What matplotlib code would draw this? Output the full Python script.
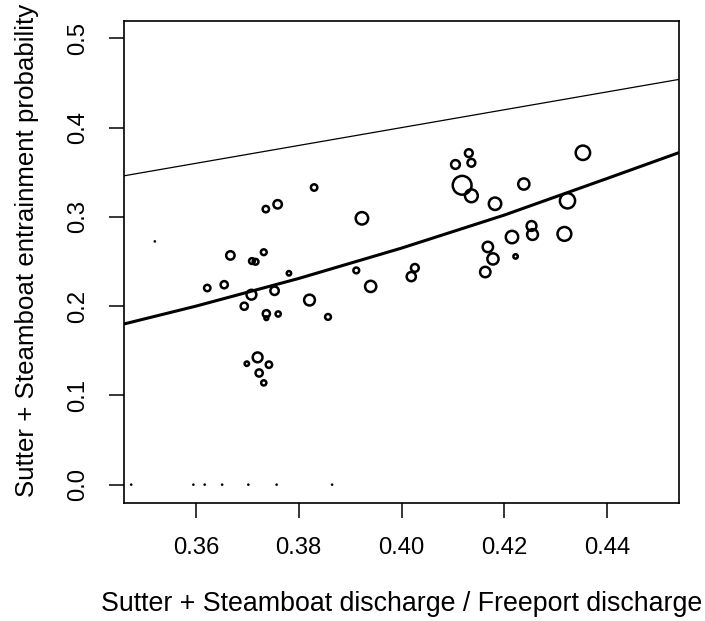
import numpy as np
import matplotlib
matplotlib.use("Agg")
import matplotlib.pyplot as plt

plt.rcParams["font.family"] = ["Liberation Sans", "DejaVu Sans"]

# observed entrainment probabilities (x = discharge ratio, y = probability)
x_obs = [0.3520, 0.3830, 0.3736, 0.3759, 0.3923, 0.3732, 0.3667, 0.3709,
         0.3716, 0.3781, 0.3912, 0.3622, 0.3655, 0.3708, 0.3753, 0.3821,
         0.3694, 0.3737, 0.3737, 0.3760, 0.3857, 0.3720, 0.3699, 0.3742,
         0.3723, 0.3732, 0.3940, 0.4026, 0.4019, 0.4131, 0.4105, 0.4136,
         0.4118, 0.4136, 0.4182, 0.4238, 0.4353, 0.4323, 0.4253, 0.4255,
         0.4215, 0.4317, 0.4168, 0.4178, 0.4222, 0.4163,
         0.3474, 0.3595, 0.3617, 0.3651, 0.3702, 0.3757, 0.3865]
y_obs = [0.2725, 0.3329, 0.3087, 0.3141, 0.2984, 0.2604, 0.2568, 0.2505,
         0.2497, 0.2368, 0.2400, 0.2203, 0.2240, 0.2128, 0.2172, 0.2068,
         0.1999, 0.1915, 0.1865, 0.1912, 0.1879, 0.1426, 0.1355, 0.1344,
         0.1251, 0.1140, 0.2221, 0.2428, 0.2331, 0.3714, 0.3587, 0.3606,
         0.3354, 0.3236, 0.3147, 0.3368, 0.3718, 0.3180, 0.2898, 0.2802,
         0.2774, 0.2809, 0.2663, 0.2529, 0.2557, 0.2382,
         0.0, 0.0, 0.0, 0.0, 0.0, 0.0, 0.0]
# relative symbol size (sample weight)
weight = [1.3, 4.3, 4.3, 5.3, 7.3, 4.0, 5.3, 4.0,
          4.0, 3.3, 4.0, 4.3, 4.7, 6.0, 5.3, 6.5,
          4.7, 4.7, 3.0, 3.7, 4.0, 6.0, 3.3, 4.3,
          4.7, 3.7, 6.7, 5.0, 5.7, 5.0, 5.5, 5.0,
          10.5, 7.5, 7.3, 6.7, 8.3, 8.7, 6.0, 6.5,
          7.3, 8.0, 6.3, 6.7, 3.3, 6.3,
          1.3, 1.3, 1.3, 1.3, 1.3, 1.3, 1.3]

# fitted curve read at a few discharge ratios
fit_x = [0.346, 0.36, 0.38, 0.40, 0.42, 0.44, 0.454]
fit_y = [0.180, 0.200, 0.231, 0.265, 0.302, 0.343, 0.372]

x_ticks = [0.36, 0.38, 0.40, 0.42, 0.44]
y_ticks = [0.0, 0.1, 0.2, 0.3, 0.4, 0.5]

fig = plt.figure(figsize=(7.05, 6.21), dpi=100)
ax = fig.add_axes([124 / 705, 1 - 502.5 / 621, 555 / 705, 482 / 621])

x_obs = np.array(x_obs)
y_obs = np.array(y_obs)
r_px = np.array(weight)
tiny = r_px < 2

# open circles: radius in px minus half the stroke, converted to points
diam_pt = 2 * (r_px[~tiny] - 1.1) * 0.72
ax.scatter(x_obs[~tiny], y_obs[~tiny], s=diam_pt ** 2, facecolors="none",
           edgecolors="black", linewidths=1.8, zorder=3)
# the smallest symbols render as dots
ax.scatter(x_obs[tiny], y_obs[tiny], s=(2 * r_px[tiny] * 0.72) ** 2,
           color="black", linewidths=0, zorder=3)

ax.plot(fit_x, fit_y, color="black", lw=2.2, solid_capstyle="butt", zorder=2)
ax.axline((0, 0), slope=1, color="black", lw=0.9, zorder=2)

ax.set_xlim(0.346, 0.454)
ax.set_ylim(-0.02, 0.52)
ax.set_xticks(x_ticks)
ax.set_xticklabels([f"{v:.2f}" for v in x_ticks])
ax.set_yticks(y_ticks)
ax.set_yticklabels([f"{v:.1f}" for v in y_ticks])

for sp in ax.spines.values():
    sp.set_linewidth(1.2)
ax.tick_params(direction="out", length=10.8, width=1.1, labelsize=17.2)
ax.tick_params(axis="x", pad=14)
ax.tick_params(axis="y", pad=14)
for lbl in ax.get_yticklabels():
    lbl.set_rotation(90)
    lbl.set_va("center")

ax.set_xlabel("Sutter + Steamboat discharge / Freeport discharge",
              fontsize=19.3)
ax.xaxis.set_label_coords(0.5, (502.5 - 604) / 482)
ax.xaxis.label.set_va("center")
ax.set_ylabel("Sutter + Steamboat entrainment probability", fontsize=18.6)
ax.yaxis.set_label_coords((27 - 124) / 555, (502.5 - 250) / 482)
ax.yaxis.label.set_va("center")

fig.savefig("out.png", dpi=100)
